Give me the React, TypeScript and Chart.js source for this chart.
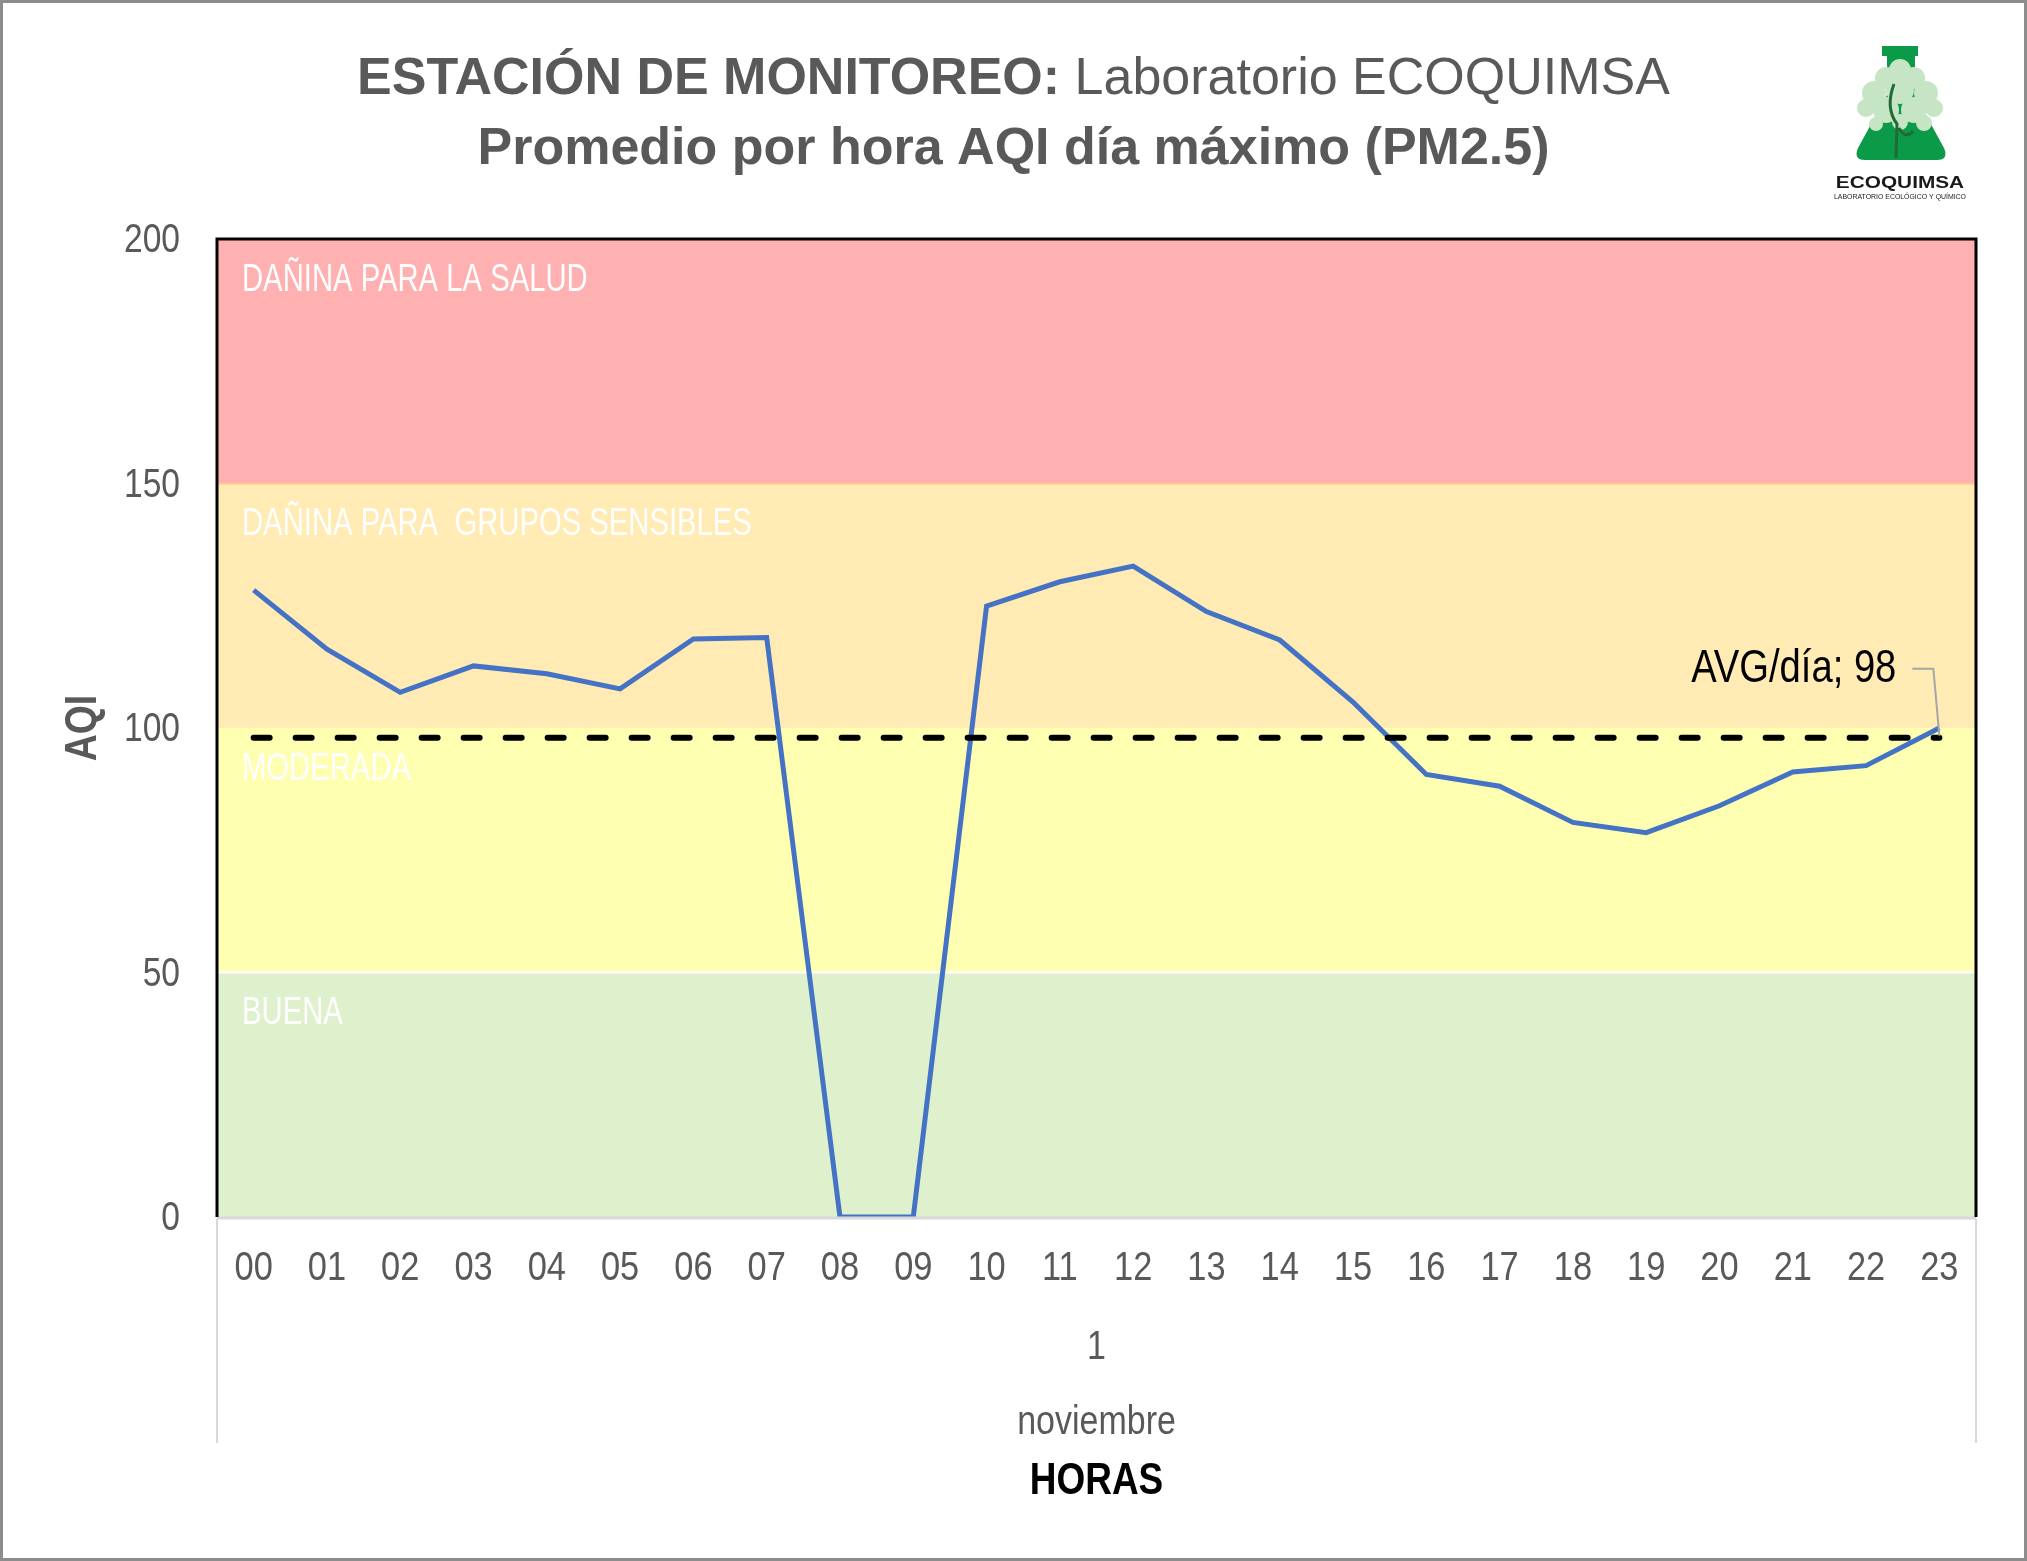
import React, { useEffect, useRef } from 'react';
import { Chart, registerables } from 'chart.js';

Chart.register(...registerables);

// ---- data ----
const HOURS = ['00', '01', '02', '03', '04', '05', '06', '07', '08', '09', '10', '11',
  '12', '13', '14', '15', '16', '17', '18', '19', '20', '21', '22', '23'];
const AQI_VALUES = [128.2, 116.1, 107.3, 112.7, 111.1, 108.0, 118.2, 118.5, 0, 0, 124.9, 129.9,
  133.1, 123.8, 118.0, 105.3, 90.5, 88.1, 80.7, 78.6, 84.1, 91.0, 92.3, 100.0];
const AVG_DAY = 98;
const DAY_LABEL = '1';
const MONTH_LABEL = 'noviembre';
const Y_TICKS = [0, 50, 100, 150, 200];
const BAND_LIMITS = [0, 50, 100, 150, 200];
const BAND_NAMES = ['BUENA', 'MODERADA', 'DAÑINA PARA  GRUPOS SENSIBLES', 'DAÑINA PARA LA SALUD'];

// ---- styles ----
const BAND_COLORS = ['#DFF0CC', '#FFFFB1', '#FFEBB3', '#FFB0B0'];
const GRAY = '#595959';
const FONT = '"Liberation Sans", Arial, sans-serif';

// no Arial Narrow available: squeeze the regular face horizontally
function condensed(ctx: CanvasRenderingContext2D, text: string, x: number, y: number,
  sx: number, align: CanvasTextAlign, rotate = 0) {
  ctx.save();
  ctx.translate(x, y);
  if (rotate) ctx.rotate(rotate);
  ctx.scale(sx, 1);
  ctx.textAlign = align;
  ctx.fillText(text, 0, 0);
  ctx.restore();
}

const bandsPlugin = {
  id: 'aqiBands',
  beforeDatasetsDraw(chart: any) {
    const { ctx, chartArea } = chart;
    const y = chart.scales.y;
    const { left, right } = chartArea;
    ctx.save();
    for (let i = 0; i < BAND_NAMES.length; i++) {
      const top = y.getPixelForValue(BAND_LIMITS[i + 1]);
      const bottom = y.getPixelForValue(BAND_LIMITS[i]);
      ctx.fillStyle = BAND_COLORS[i];
      ctx.fillRect(left, top, right - left, bottom - top);
    }
    // band boundaries
    ctx.lineWidth = 2;
    ctx.strokeStyle = '#FFC48F';
    let yy = y.getPixelForValue(150);
    ctx.beginPath(); ctx.moveTo(left, yy); ctx.lineTo(right, yy); ctx.stroke();
    ctx.strokeStyle = '#FFFFFF';
    yy = y.getPixelForValue(50);
    ctx.beginPath(); ctx.moveTo(left, yy); ctx.lineTo(right, yy); ctx.stroke();
    // band names
    ctx.fillStyle = '#FFFFFF';
    ctx.font = `39px ${FONT}`;
    ctx.textBaseline = 'middle';
    for (let i = 0; i < BAND_NAMES.length; i++) {
      const top = y.getPixelForValue(BAND_LIMITS[i + 1]);
      condensed(ctx, BAND_NAMES[i], left + 25, top + 41, 0.75, 'left');
    }
    ctx.restore();
  },
};

const decorPlugin = {
  id: 'decor',
  afterDatasetsDraw(chart: any) {
    const { ctx, chartArea } = chart;
    const { left, right, top, bottom } = chartArea;
    const x = chart.scales.x;
    const y = chart.scales.y;
    ctx.save();
    // plot frame
    ctx.lineWidth = 3;
    ctx.strokeStyle = '#D9D9D9';
    ctx.beginPath(); ctx.moveTo(left, bottom + 1); ctx.lineTo(right, bottom + 1); ctx.stroke();
    ctx.strokeStyle = '#000000';
    ctx.beginPath();
    ctx.moveTo(left, bottom); ctx.lineTo(left, top); ctx.lineTo(right, top); ctx.lineTo(right, bottom);
    ctx.stroke();
    // multi-level category separators
    ctx.lineWidth = 2;
    ctx.strokeStyle = '#D9D9D9';
    ctx.beginPath();
    ctx.moveTo(left, bottom + 2); ctx.lineTo(left, bottom + 226);
    ctx.moveTo(right, bottom + 2); ctx.lineTo(right, bottom + 226);
    ctx.stroke();

    // axis tick labels, taken from the chart's scales
    ctx.fillStyle = GRAY;
    ctx.font = `40px ${FONT}`;
    ctx.textBaseline = 'middle';
    x.ticks.forEach((t: any, i: number) => {
      condensed(ctx, x.getLabelForValue(t.value), x.getPixelForTick(i), bottom + 52, 0.86, 'center');
    });
    y.ticks.forEach((t: any) => {
      condensed(ctx, String(t.value), left - 37, y.getPixelForValue(t.value) + 2, 0.84, 'right');
    });
    const cx = (left + right) / 2;
    condensed(ctx, DAY_LABEL, cx, bottom + 131, 0.85, 'center');
    condensed(ctx, MONTH_LABEL, cx, bottom + 206, 0.85, 'center');

    // axis titles
    ctx.font = `bold 44px ${FONT}`;
    condensed(ctx, 'AQI', 84, (top + bottom) / 2, 0.85, 'center', -Math.PI / 2);
    ctx.fillStyle = '#000000';
    condensed(ctx, 'HORAS', cx, bottom + 265, 0.84, 'center');

    // average data label with leader line
    const px = x.getPixelForValue(HOURS.length - 1);
    const py = y.getPixelForValue(AVG_DAY);
    ctx.strokeStyle = '#A6A6A6';
    ctx.lineWidth = 2;
    ctx.beginPath();
    ctx.moveTo(px - 27, py - 69); ctx.lineTo(px - 6, py - 69); ctx.lineTo(px, py - 2);
    ctx.stroke();
    ctx.fillStyle = '#000000';
    ctx.font = `46px ${FONT}`;
    condensed(ctx, `AVG/día; ${AVG_DAY}`, px - 43, py - 68, 0.83, 'right');
    ctx.restore();
  },
  afterDraw(chart: any) {
    const { ctx, width, height } = chart;
    ctx.save();
    // title
    ctx.fillStyle = GRAY;
    ctx.textBaseline = 'alphabetic';
    ctx.textAlign = 'left';
    const boldPart = 'ESTACIÓN DE MONITOREO:';
    const regPart = ' Laboratorio ECOQUIMSA';
    ctx.font = `bold 52px ${FONT}`;
    const wb = ctx.measureText(boldPart).width;
    ctx.font = `52px ${FONT}`;
    const wr = ctx.measureText(regPart).width;
    const x0 = width / 2 - (wb + wr) / 2;
    ctx.font = `bold 52px ${FONT}`;
    ctx.fillText(boldPart, x0, 94);
    ctx.font = `52px ${FONT}`;
    ctx.fillText(regPart, x0 + wb, 94);
    ctx.font = `bold 52px ${FONT}`;
    ctx.textAlign = 'center';
    ctx.fillText('Promedio por hora AQI día máximo (PM2.5)', width / 2, 164);

    // logo
    ctx.fillStyle = '#0B9A47';
    ctx.beginPath();
    ctx.moveTo(1882, 46); ctx.lineTo(1918, 46); ctx.lineTo(1918, 56); ctx.lineTo(1915, 56);
    ctx.lineTo(1915, 95); ctx.lineTo(1944, 148);
    ctx.quadraticCurveTo(1949, 160, 1937, 160);
    ctx.lineTo(1865, 160);
    ctx.quadraticCurveTo(1853, 160, 1858, 148);
    ctx.lineTo(1887, 95); ctx.lineTo(1887, 56); ctx.lineTo(1882, 56);
    ctx.closePath();
    ctx.fill();
    ctx.fillStyle = '#C6E5C4';
    const blobs = [
      [1900, 70, 11], [1886, 78, 11], [1914, 78, 11], [1874, 93, 12], [1926, 93, 12],
      [1900, 90, 14], [1866, 108, 9], [1934, 108, 9], [1886, 110, 13], [1914, 110, 13],
      [1900, 122, 8], [1924, 123, 8], [1876, 124, 7],
    ];
    for (const [bx, by, br] of blobs) {
      ctx.beginPath(); ctx.arc(bx, by, br, 0, Math.PI * 2); ctx.fill();
    }
    ctx.strokeStyle = '#1F6B33';
    ctx.lineWidth = 3;
    ctx.beginPath();
    ctx.moveTo(1894, 84); ctx.quadraticCurveTo(1885, 108, 1897, 124);
    ctx.lineTo(1896, 158);
    ctx.moveTo(1899, 128); ctx.quadraticCurveTo(1906, 140, 1913, 131);
    ctx.stroke();
    ctx.fillStyle = '#1A1A1A';
    ctx.textAlign = 'center';
    ctx.save();
    ctx.translate(1900, 188);
    ctx.scale(1.3, 1);
    ctx.font = `bold 16px ${FONT}`;
    ctx.fillText('ECOQUIMSA', 0, 0);
    ctx.restore();
    ctx.font = `7px ${FONT}`;
    ctx.fillText('LABORATORIO ECOLÓGICO Y QUÍMICO', 1900, 199, 132);

    // outer border
    ctx.strokeStyle = '#8C8C8C';
    ctx.lineWidth = 3;
    ctx.strokeRect(1.5, 1.5, width - 3, height - 3);
    ctx.restore();
  },
};

const App: React.FC = () => {
  const canvasRef = useRef<HTMLCanvasElement>(null);

  useEffect(() => {
    document.body.style.margin = '0';
    document.body.style.overflow = 'hidden';
    if (!canvasRef.current) return;
    const ctx = canvasRef.current.getContext('2d');
    if (!ctx) return;

    const chart = new Chart(ctx, {
      type: 'line',
      data: {
        labels: HOURS,
        datasets: [
          {
            label: 'AVG/día',
            data: [{ x: HOURS[0], y: AVG_DAY }, { x: HOURS[HOURS.length - 1], y: AVG_DAY }] as any,
            borderColor: '#000000',
            borderWidth: 6,
            borderDash: [16, 26],
            borderCapStyle: 'round',
            pointRadius: 0,
            fill: false,
            order: 0,
          },
          {
            label: 'AQI',
            data: AQI_VALUES,
            borderColor: '#4472C4',
            borderWidth: 5,
            pointRadius: 0,
            tension: 0,
            fill: false,
            order: 1,
          },
        ],
      },
      options: {
        animation: false,
        responsive: true,
        maintainAspectRatio: false,
        layout: { padding: { top: 239, right: 51, bottom: 0, left: 0 } },
        plugins: {
          legend: { display: false },
          tooltip: { enabled: false },
          title: { display: false },
        },
        scales: {
          x: {
            type: 'category',
            offset: true,
            grid: { display: false, drawTicks: false },
            border: { display: false },
            ticks: { display: false, autoSkip: false },
            afterFit: (scale: any) => { scale.height = 344; },
          },
          y: {
            min: Y_TICKS[0],
            max: Y_TICKS[Y_TICKS.length - 1],
            grid: { display: false, drawTicks: false },
            border: { display: false },
            afterBuildTicks: (scale: any) => { scale.ticks = Y_TICKS.map((v) => ({ value: v })); },
            ticks: { display: false },
            afterFit: (scale: any) => { scale.width = 217; },
          },
        },
      },
      plugins: [bandsPlugin, decorPlugin],
    });

    return () => {
      chart.destroy();
    };
  }, []);

  return (
    <div style={{ position: 'absolute', left: 0, top: 0, width: 2027, height: 1561, background: '#FFFFFF' }}>
      <canvas ref={canvasRef} />
    </div>
  );
};

export default App;
